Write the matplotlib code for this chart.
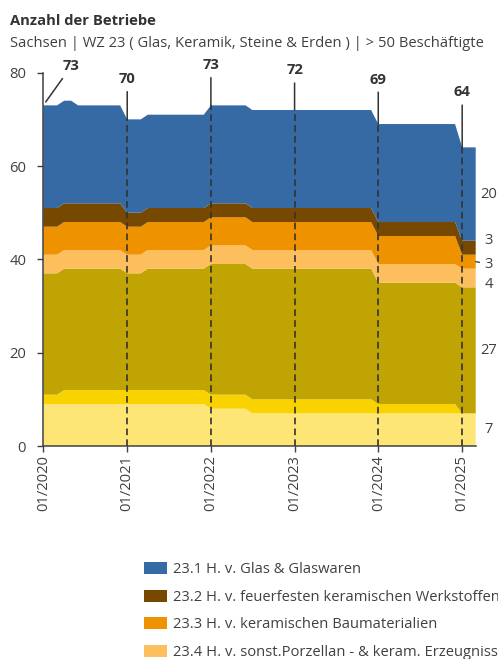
import numpy as np
import pandas as pd
import matplotlib.pyplot as plt
import matplotlib.dates as mdates
import matplotlib.patches as mpatches

plt.rcParams["font.family"] = ["Open Sans", "DejaVu Sans"]
plt.rcParams["font.size"] = 10.6

TXT = "#404040"
FS = 10.6

# Monatswerte Jan 2020 - Mär 2025, eine Zeile je Jahr
monate = pd.date_range("2020-01-01", "2025-03-01", freq="MS")

wz_231 = [22, 22, 22, 22, 22, 21, 21, 21, 21, 21, 21, 21,
          20, 20, 20, 20, 20, 20, 20, 20, 20, 20, 20, 20,
          21, 21, 21, 21, 21, 21, 21, 21, 21, 21, 21, 21,
          21, 21, 21, 21, 21, 21, 21, 21, 21, 21, 21, 21,
          21, 21, 21, 21, 21, 21, 21, 21, 21, 21, 21, 21,
          20, 20, 20]
wz_232 = [4, 4, 4, 4, 4, 4, 4, 4, 4, 4, 4, 4,
          3, 3, 3, 3, 3, 3, 3, 3, 3, 3, 3, 3,
          3, 3, 3, 3, 3, 3, 3, 3, 3, 3, 3, 3,
          3, 3, 3, 3, 3, 3, 3, 3, 3, 3, 3, 3,
          3, 3, 3, 3, 3, 3, 3, 3, 3, 3, 3, 3,
          3, 3, 3]
wz_233 = [6, 6, 6, 6, 6, 6, 6, 6, 6, 6, 6, 6,
          6, 6, 6, 6, 6, 6, 6, 6, 6, 6, 6, 6,
          6, 6, 6, 6, 6, 6, 6, 6, 6, 6, 6, 6,
          6, 6, 6, 6, 6, 6, 6, 6, 6, 6, 6, 6,
          6, 6, 6, 6, 6, 6, 6, 6, 6, 6, 6, 6,
          3, 3, 3]
wz_234 = [4, 4, 4, 4, 4, 4, 4, 4, 4, 4, 4, 4,
          4, 4, 4, 4, 4, 4, 4, 4, 4, 4, 4, 4,
          4, 4, 4, 4, 4, 4, 4, 4, 4, 4, 4, 4,
          4, 4, 4, 4, 4, 4, 4, 4, 4, 4, 4, 4,
          4, 4, 4, 4, 4, 4, 4, 4, 4, 4, 4, 4,
          4, 4, 4]
wz_236 = [26, 26, 26, 26, 26, 26, 26, 26, 26, 26, 26, 26,
          25, 25, 25, 26, 26, 26, 26, 26, 26, 26, 26, 26,
          28, 28, 28, 28, 28, 28, 28, 28, 28, 28, 28, 28,
          28, 28, 28, 28, 28, 28, 28, 28, 28, 28, 28, 28,
          26, 26, 26, 26, 26, 26, 26, 26, 26, 26, 26, 26,
          27, 27, 27]
wz_237 = [2, 2, 2, 3, 3, 3, 3, 3, 3, 3, 3, 3,
          3, 3, 3, 3, 3, 3, 3, 3, 3, 3, 3, 3,
          3, 3, 3, 3, 3, 3, 3, 3, 3, 3, 3, 3,
          3, 3, 3, 3, 3, 3, 3, 3, 3, 3, 3, 3,
          2, 2, 2, 2, 2, 2, 2, 2, 2, 2, 2, 2,
          0, 0, 0]
wz_239 = [9, 9, 9, 9, 9, 9, 9, 9, 9, 9, 9, 9,
          9, 9, 9, 9, 9, 9, 9, 9, 9, 9, 9, 9,
          8, 8, 8, 8, 8, 8, 7, 7, 7, 7, 7, 7,
          7, 7, 7, 7, 7, 7, 7, 7, 7, 7, 7, 7,
          7, 7, 7, 7, 7, 7, 7, 7, 7, 7, 7, 7,
          7, 7, 7]

# von oben nach unten, wie in der Legende
namen = ["23.1 H. v. Glas & Glaswaren",
         "23.2 H. v. feuerfesten keramischen Werkstoffen",
         "23.3 H. v. keramischen Baumaterialien",
         "23.4 H. v. sonst.Porzellan - & keram. Erzeugnissen",
         "23.6 H. v. Erzeugnissen aus Beton, Zement & Gips",
         "23.7 Be- u. Verarbeitung v. Naturwerksteinen",
         "23.9 H. v. sonst. Erzeugnissen"]
reihen = [wz_231, wz_232, wz_233, wz_234, wz_236, wz_237, wz_239]
farben = ["#356aa5", "#774800", "#ee9200", "#fdbe5e",
          "#bfa404", "#f8d300", "#fde676"]

x = mdates.date2num(monate)
werte = np.array(reihen[::-1], dtype=float)   # unten -> oben
summe = werte.sum(axis=0)

fig = plt.figure(figsize=(4.98, 6.59), dpi=100)
ax = fig.add_axes([43.3 / 498, 213 / 659, 432.4 / 498, 373.3 / 659])
ax.stackplot(x, werte, colors=farben[::-1], linewidth=0)

ax.set_xlim(x[0], x[-1])
ax.set_ylim(0, 80)
ax.set_yticks([0, 20, 40, 60, 80])
ax.xaxis.set_major_locator(mdates.YearLocator())
ax.xaxis.set_major_formatter(mdates.DateFormatter("%m/%Y"))
ax.tick_params(axis="x", rotation=90, pad=2)
ax.tick_params(length=4.3, width=1, color=TXT, labelcolor=TXT, labelsize=FS)
ax.tick_params(axis="y", pad=8)
ax.grid(False)
for s in ["top", "right"]:
    ax.spines[s].set_visible(False)
for s in ["left", "bottom"]:
    ax.spines[s].set_color(TXT)
    ax.spines[s].set_linewidth(1.1)

# Summen jeweils im Januar
jan = [i for i, m in enumerate(monate) if m.month == 1]
ax.vlines(x[jan[1:]], 0, summe[jan[1:]], colors="#333333", lw=1.2,
          linestyles=(0, (4, 2.5)), zorder=3)
label_off = [(20, 28), (0, 29), (0, 29), (0, 28.5), (0, 32), (0, 39.5)]
for i, off in zip(jan, label_off):
    ax.annotate(f"{summe[i]:.0f}", xy=(x[i], summe[i]), xytext=off,
                textcoords="offset points", ha="center", va="center",
                fontsize=FS, fontweight="bold", color="#333333",
                annotation_clip=False,
                arrowprops=dict(arrowstyle="-", color="#333333", lw=1.1,
                                shrinkA=2, shrinkB=3 if off[0] else 0))

# Endwerte rechts neben den Flächen
end_off = [0, 0, 0, -5, -1.7, 5.5, 0]   # unten -> oben
unten = 0
for k in range(len(werte)):
    v = werte[k, -1]
    mitte = unten + v / 2
    unten += v
    if v == 0:
        continue
    pfeil = None
    if k == 4:
        pfeil = dict(arrowstyle="-", color=TXT, lw=1, shrinkA=1.5, shrinkB=0)
    ax.annotate(f"{v:.0f}", xy=(x[-1], mitte), xytext=(9.2, end_off[k]),
                textcoords="offset points", ha="center", va="center",
                fontsize=FS, color=TXT, annotation_clip=False,
                arrowprops=pfeil)

fig.text(10 / 498, 0.962, "Anzahl der Betriebe", fontsize=FS,
         fontweight="bold", color="#333333", va="baseline")
fig.text(10 / 498, 0.9287,
         "Sachsen | WZ 23 ( Glas, Keramik, Steine & Erden ) | > 50 Beschäftigte",
         fontsize=FS, color=TXT, va="baseline")

griffe = [mpatches.Patch(facecolor=c, edgecolor="none") for c in farben]
fig.legend(griffe, namen, loc="upper left", bbox_to_anchor=(144 / 498, 0.147),
           frameon=False, fontsize=FS, handlelength=1.56, handleheight=0.88,
           handletextpad=0.42, labelspacing=0.84, borderpad=0, borderaxespad=0,
           labelcolor=TXT)

fig.savefig("out.png", dpi=100)
